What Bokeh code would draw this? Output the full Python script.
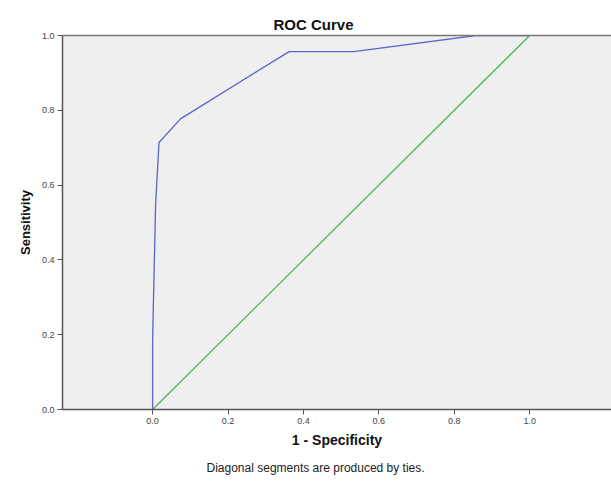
from bokeh.plotting import figure
from bokeh.models import Range1d, LinearAxis, FixedTicker, Title
from bokeh.embed import file_html
from bokeh.resources import INLINE

# ROC data
fpr = [0.0, 0.0, 0.008, 0.017, 0.074, 0.362, 0.534, 0.857, 1.0]
tpr = [0.0, 0.19, 0.55, 0.714, 0.777, 0.957, 0.957, 1.0, 1.0]
ref_x = [0.0, 1.0]
ref_y = [0.0, 1.0]
tick_values = [0.0, 0.2, 0.4, 0.6, 0.8, 1.0]
tick_labels = {0.0: "0.0", 0.2: "0.2", 0.4: "0.4", 0.6: "0.6", 0.8: "0.8", 1.0: "1.0"}

FONT = "Liberation Sans"

p = figure(width=611, height=482, output_backend="svg", toolbar_location=None,
           x_range=Range1d(-0.239, 1.217), y_range=Range1d(0.0, 1.0),
           x_axis_label="1 - Specificity", y_axis_label="Sensitivity",
           min_border_left=62, min_border_right=0, min_border_top=35, min_border_bottom=73)

p.background_fill_color = "#EFEFEF"
p.border_fill_color = "white"
p.outline_line_color = None
p.xgrid.visible = False
p.ygrid.visible = False

for ax in (p.xaxis[0], p.yaxis[0]):
    ax.ticker = FixedTicker(ticks=tick_values)
    ax.major_label_overrides = tick_labels
    ax.minor_tick_line_color = None
    ax.major_tick_in = 0
    ax.major_tick_out = 5
    ax.major_tick_line_color = "#555555"
    ax.axis_line_color = "#555555"
    ax.axis_line_width = 1.5
    ax.major_label_text_font = FONT
    ax.major_label_text_font_size = "9px"
    ax.major_label_text_color = "#444444"
    ax.axis_label_text_font = FONT
    ax.axis_label_text_font_style = "bold"
    ax.axis_label_text_color = "#111111"
    ax.major_label_standoff = 3

p.xaxis[0].axis_label_text_font_size = "14px"
p.xaxis[0].axis_label_standoff = 5
p.yaxis[0].axis_label_text_font_size = "13px"
p.yaxis[0].axis_label_standoff = 6

top_axis = LinearAxis(major_tick_in=0, major_tick_out=0, minor_tick_in=0, minor_tick_out=0,
                      major_label_text_font_size="0px", axis_line_color="#777777",
                      axis_line_width=1.5, major_label_standoff=0)
top_axis.major_label_text_alpha = 0
p.add_layout(top_axis, "above")

p.line(ref_x, ref_y, line_color="#4CB85C", line_width=1.3)
p.line(fpr, tpr, line_color="#5A66C8", line_width=1.3)

title = Title(text="ROC Curve", align="left", offset=211, standoff=5,
              text_font=FONT, text_font_size="15px", text_font_style="bold",
              text_color="#111111")
note = Title(text="Diagonal segments are produced by ties.", align="left", offset=144,
             standoff=16, text_font=FONT, text_font_size="12px", text_font_style="normal",
             text_color="#222222")
p.add_layout(title, "above")
p.add_layout(note, "below")

open("out.html", "w").write(file_html(p, INLINE))
